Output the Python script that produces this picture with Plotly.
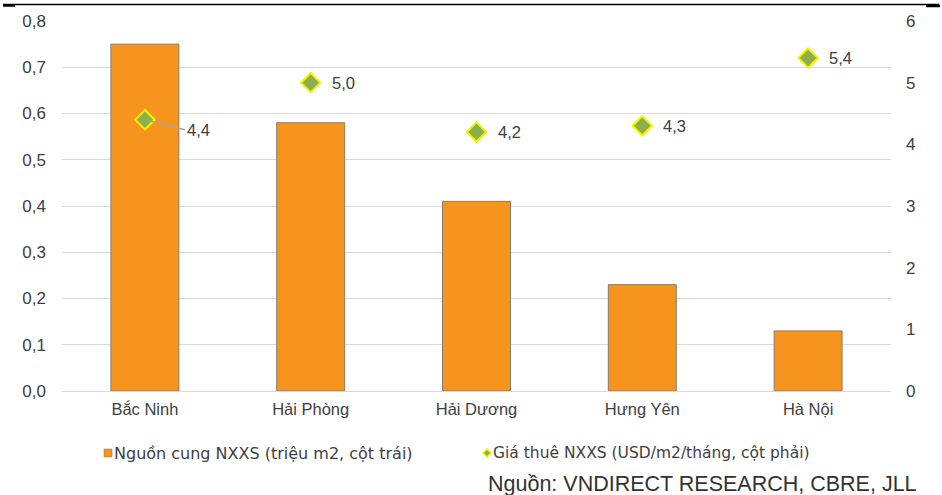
import plotly.graph_objects as go

# Khu vực
provinces = ["Bắc Ninh", "Hải Phòng", "Hải Dương", "Hưng Yên", "Hà Nội"]
# Nguồn cung nhà xưởng xây sẵn (triệu m2) - trục trái
supply = [0.75, 0.58, 0.41, 0.23, 0.13]
# Giá thuê nhà xưởng xây sẵn (USD/m2/tháng) - trục phải
rent = [4.4, 5.0, 4.2, 4.3, 5.4]

left_ticks = [0, 0.1, 0.2, 0.3, 0.4, 0.5, 0.6, 0.7, 0.8]
right_ticks = [0, 1, 2, 3, 4, 5, 6]

supply_name = "Nguồn cung NXXS (triệu m2, cột trái)"
rent_name = "Giá thuê NXXS (USD/m2/tháng, cột phải)"
source_text = "Nguồn: VNDIRECT RESEARCH, CBRE, JLL"

BAR = "#F7941D"
TXT = "#404040"
FONT = "Liberation Sans, Arial, sans-serif"
LEGEND_FONT = "DejaVu Sans, Liberation Sans, sans-serif"

# vùng vẽ (pixel) để đặt các thành phần phụ theo toạ độ paper
PL, PR, PT, PB = 62, 891, 21, 391
PW, PH = PR - PL, PB - PT


def px(x):
    return (x - PL) / PW


def py(y):
    return (PB - y) / PH


def vn(v, d=1):
    return f"{v:.{d}f}".replace(".", ",")


fig = go.Figure()
fig.add_trace(go.Bar(
    x=provinces, y=supply, name=supply_name,
    marker=dict(color=BAR, line=dict(color="#8a7a6a", width=1)),
    width=0.41, yaxis="y", showlegend=False,
))
fig.add_trace(go.Scatter(
    x=provinces, y=rent, name=rent_name, mode="markers",
    marker=dict(symbol="diamond", size=15, color="#8DAE4C",
                line=dict(color="#F2F200", width=2)),
    yaxis="y2", showlegend=False,
))

# Nhãn giá trị giá thuê
for i, (p, r) in enumerate(zip(provinces, rent)):
    if i == 0:
        fig.add_annotation(
            x=p, y=r, yref="y2", text=vn(r), showarrow=True,
            arrowhead=0, arrowwidth=1.5, arrowcolor="#A6A6A6",
            ax=40, ay=10, xanchor="left", standoff=4,
            font=dict(family=FONT, size=16.5, color=TXT),
        )
    else:
        fig.add_annotation(
            x=p, y=r, yref="y2", text=vn(r), showarrow=False,
            xanchor="left", xshift=19,
            font=dict(family=FONT, size=16.5, color=TXT),
        )

fig.update_layout(
    width=942, height=495,
    margin=dict(l=PL, r=942 - PR, t=PT, b=495 - PB),
    paper_bgcolor="white", plot_bgcolor="white",
    font=dict(family=FONT, size=16.5, color=TXT),
    xaxis=dict(showgrid=False, showline=False, ticks="",
               tickfont=dict(size=16.5, color=TXT), ticklabelstandoff=6),
    yaxis=dict(range=[0, 0.8], tickvals=left_ticks,
               ticktext=[vn(v) for v in left_ticks],
               showgrid=True, gridcolor="#D9D9D9", gridwidth=1,
               zeroline=True, zerolinecolor="#D9D9D9", zerolinewidth=1,
               showline=False, ticks="", ticklabelstandoff=15,
               tickfont=dict(size=17, color=TXT)),
    yaxis2=dict(range=[0, 6], tickvals=right_ticks,
                ticktext=[str(v) for v in right_ticks],
                overlaying="y", side="right", showgrid=False,
                zeroline=False, showline=False, ticks="",
                ticklabelstandoff=14, tickfont=dict(size=17, color=TXT)),
)

# Đường kẻ trên cùng
fig.add_shape(type="line", xref="paper", yref="paper",
              x0=px(3), x1=px(939), y0=py(4.5), y1=py(4.5),
              line=dict(color="black", width=1.5))
fig.add_shape(type="line", xref="paper", yref="paper",
              x0=px(3), x1=px(15), y0=py(5.5), y1=py(5.5),
              line=dict(color="black", width=2.5))
fig.add_shape(type="line", xref="paper", yref="paper",
              x0=px(926), x1=px(940), y0=py(6), y1=py(6),
              line=dict(color="black", width=2.5))

# Chú giải
LEG_Y = 453
fig.add_shape(type="rect", xref="paper", yref="paper",
              x0=px(104), x1=px(112), y0=py(LEG_Y + 4), y1=py(LEG_Y - 4),
              fillcolor=BAR, line=dict(color="#8a7a6a", width=0.5))
fig.add_annotation(xref="paper", yref="paper", x=px(112), y=py(LEG_Y),
                   text=supply_name, showarrow=False,
                   xanchor="left", yanchor="middle",
                   font=dict(family=LEGEND_FONT, size=16, color=TXT))
cx, cy, h = 487, LEG_Y, 4
fig.add_shape(type="path", xref="paper", yref="paper",
              path=(f"M {px(cx - h)} {py(cy)} L {px(cx)} {py(cy - h)} "
                    f"L {px(cx + h)} {py(cy)} L {px(cx)} {py(cy + h)} Z"),
              fillcolor="#8DAE4C", line=dict(color="#F2F200", width=1.5))
fig.add_annotation(xref="paper", yref="paper", x=px(491), y=py(LEG_Y),
                   text=rent_name, showarrow=False,
                   xanchor="left", yanchor="middle",
                   font=dict(family=LEGEND_FONT, size=15.5, color=TXT))

# Nguồn
fig.add_annotation(xref="paper", yref="paper", x=px(919), y=py(484),
                   text=source_text, showarrow=False,
                   xanchor="right", yanchor="middle",
                   font=dict(family=FONT, size=21.5, color="#333333"))

fig.write_html("out.html")
